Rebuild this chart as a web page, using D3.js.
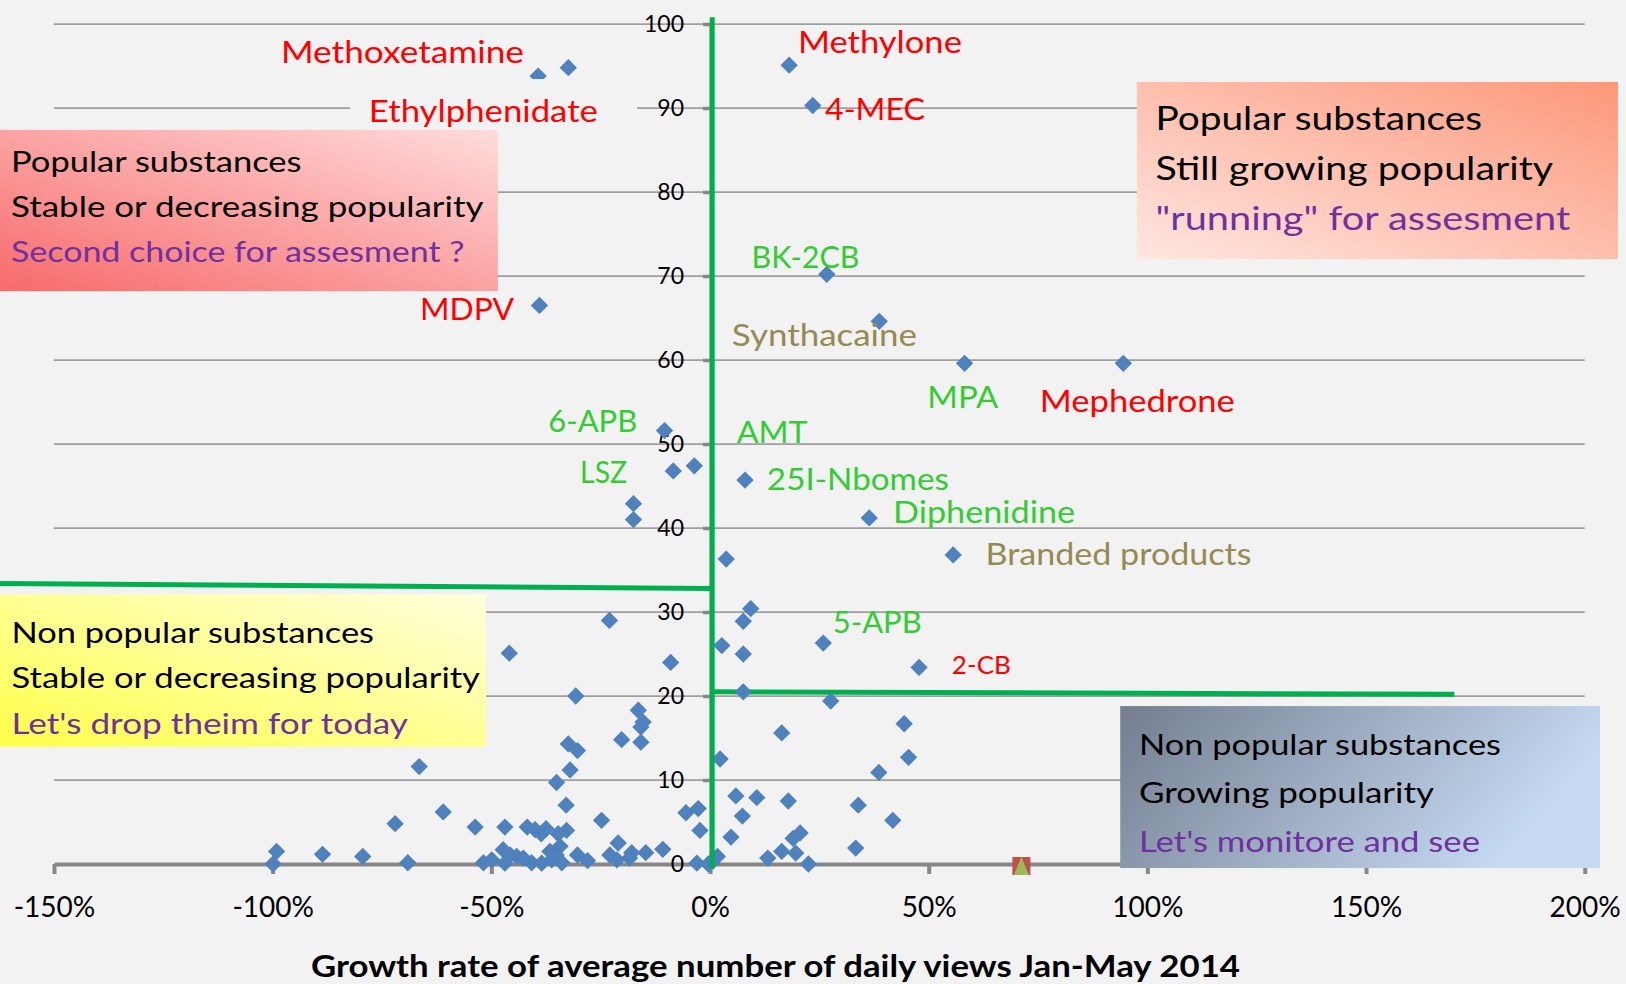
<!DOCTYPE html>
<html><head><meta charset="utf-8">
<script src="https://cdn.jsdelivr.net/npm/d3@7"></script>
<style>html,body{margin:0;padding:0;background:#f2f2f2;overflow:hidden}</style>
</head><body><svg id="chart" width="1626" height="984"></svg>
<script>
// ---------------- DATA ----------------
const growthRate = [
  -32.4,-39.3,18.1,23.5,26.7,-39.0,38.7,58.2,94.5,-10.4,-8.4,-3.6,-17.5,-17.5,8.0,36.4,3.7,55.6,
  9.3,7.6,2.7,7.6,25.9,47.8,7.6,27.6,16.4,44.4,-23.0,-45.9,-9.0,-30.7,-16.4,-15.3,-15.8,-20.2,
  -15.8,-32.4,-30.3,-32.0,-35.1,-32.9,-24.8,-53.7,-46.9,-41.8,-40.0,-37.5,-38.6,-34.7,-32.8,
  -5.5,-2.7,-2.3,-21.0,-10.8,-14.7,-17.9,-22.9,-21.3,-18.4,-30.3,-28.0,-34.3,-36.6,-47.3,-45.7,
  -51.8,-49.9,-46.9,-44.2,-42.7,-40.8,-38.5,-36.2,-33.9,-35.2,-3.0,0.15,-66.5,-61.0,-72.0,-99.1,
  -99.9,-88.6,-79.4,-69.1,2.3,45.4,38.6,5.9,10.7,17.9,33.9,7.4,41.8,4.8,20.6,19.0,16.4,19.6,13.2,
  22.5,33.3,1.7,-0.4
];
const dailyViews = [
  94.8,93.8,95.1,90.3,70.2,66.5,64.6,59.6,59.6,51.6,46.8,47.4,42.9,41.0,45.7,41.2,36.3,36.8,
  30.4,28.9,26.0,25.0,26.3,23.4,20.5,19.4,15.6,16.7,29.0,25.1,24.0,20.0,18.3,16.9,16.3,14.8,
  14.5,14.3,13.5,11.2,9.7,7.0,5.2,4.4,4.4,4.4,4.1,4.2,3.6,3.6,4.0,
  6.1,6.6,4.0,2.5,1.75,1.35,1.35,1.07,0.5,0.7,1.07,0.4,2.1,1.5,1.7,1.07,
  0.15,0.5,0.1,0.9,0.7,0.15,0.1,0.5,0.15,1.07,0.1,0.1,11.6,6.2,4.8,1.5,
  0.0,1.15,0.9,0.15,12.5,12.7,10.9,8.1,7.9,7.5,7.0,5.7,5.2,3.2,3.7,3.05,1.5,1.3,0.7,
  0.0,1.9,0.9,0.0
];
const flaggedGrowth = [71.2];
const flaggedViews = [0];

const xTickValues = [-150,-100,-50,0,50,100,150,200];
const yTickValues = [0,10,20,30,40,50,60,70,80,90,100];

const labelNames = ["Methoxetamine","Ethylphenidate","Methylone","4-MEC","BK-2CB","Synthacaine","MDPV",
  "MPA","Mephedrone","6-APB","LSZ","AMT","25I-Nbomes","Diphenidine","Branded products","5-APB","2-CB"];
const labelGrowth = [-98.1,-78.0,20.1,26.3,9.5,5.0,-66.3,49.7,75.4,-37.0,-29.7,6.1,13.0,41.85,63.0,28.06,55.3];
const labelViews  = [95.36,88.33,96.55,88.57,70.95,61.67,64.76,54.25,53.77,51.43,45.32,50.12,44.52,40.56,35.6,27.46,22.58];

const quadrantLines = [
  ["Popular substances","Stable or decreasing popularity","Second choice for assesment ?"],
  ["Popular substances","Still growing  popularity","\"running\" for assesment"],
  ["Non popular substances","Stable or decreasing popularity","Let's drop theim  for today"],
  ["Non popular substances","Growing popularity","Let's monitore and see"]
];
const xAxisTitle = "Growth rate  of average number of daily views Jan-May 2014";

// ---------------- STYLE / LAYOUT ----------------
const RED = "#ff0000", GREEN = "#33cc33", OLIVE = "#948a54", PURPLE = "#7030a0";
const labelStyle = {
  "Methoxetamine":[RED,243,31], "Ethylphenidate":[RED,229,31], "Methylone":[RED,164,31],
  "4-MEC":[RED,100,31], "BK-2CB":[GREEN,108,31], "Synthacaine":[OLIVE,185,31], "MDPV":[RED,94,31],
  "MPA":[GREEN,71,31], "Mephedrone":[RED,195,31], "6-APB":[GREEN,89,31], "LSZ":[GREEN,47,31],
  "AMT":[GREEN,71,31], "25I-Nbomes":[GREEN,182,31], "Diphenidine":[GREEN,182,31],
  "Branded products":[OLIVE,266,31], "5-APB":[GREEN,89,31], "2-CB":[RED,59,25]
};
const quadrantLayout = [
  {x0:-162.4,x1:-48.5,y0:87.4,y1:68.2, stops:["#f76a6a","#ffdcdc"], dir:[0,1,1,0], font:29, left:11,
   base:[41.7,86.7,131.7], widths:[290.5,472.5,453.5]},
  {x0:97.6,x1:207.6,y0:93.1,y1:72.0, stops:["#ffe6e0","#fc987a"], dir:[0,1,1,0], font:33, left:18.6,
   base:[48,98,148], widths:[326.6,397.7,414.7]},
  {x0:-162.4,x1:-51.2,y0:32.1,y1:13.96, stops:["#ffff4a","#ffffdc"], dir:[0,1,1,0], font:29, left:11.5,
   base:[48.7,93.3,139.3], widths:[362.5,468.5,396.5]},
  {x0:93.8,x1:203.5,y0:18.8,y1:-0.48, stops:["#737e8f","#c6daf2"], dir:[0,0,1,0.3], font:29, left:18.8,
   base:[49,97.3,145.7], widths:[361.9,295,340.9]}
];
const FONT = "Lato, 'Open Sans', sans-serif";

// ---------------- CHART ----------------
const svg = d3.select("#chart");
const x = d3.scaleLinear().domain([-150,200]).range([54,1584.7]);
const y = d3.scaleLinear().domain([0,100]).range([864,24]);

svg.append("rect").attr("width",1626).attr("height",984).attr("fill","#f2f2f2");

const defs = svg.append("defs");
quadrantLayout.forEach((q,i)=>{
  const g = defs.append("linearGradient").attr("id","qg"+i)
    .attr("x1",q.dir[0]).attr("y1",q.dir[1]).attr("x2",q.dir[2]).attr("y2",q.dir[3]);
  g.append("stop").attr("offset","0").attr("stop-color",q.stops[0]);
  g.append("stop").attr("offset","1").attr("stop-color",q.stops[1]);
});

// gridlines
svg.append("g").selectAll("line").data(yTickValues.filter(v=>v>0)).join("line")
  .attr("x1",x(-150)).attr("x2",x(200)).attr("y1",d=>y(d)).attr("y2",d=>y(d))
  .attr("stroke","#9f9f9f").attr("stroke-width",1.75);

// x axis
const xAxis = svg.append("g").attr("transform",`translate(0,${y(0)})`)
  .call(d3.axisBottom(x).tickValues(xTickValues).tickSize(10).tickSizeOuter(0).tickFormat(d=>d+"%"));
xAxis.select(".domain").attr("stroke","#878787").attr("stroke-width",4);
xAxis.selectAll(".tick line").attr("stroke","#878787").attr("stroke-width",4);
xAxis.selectAll(".tick text").attr("y",53).attr("dy",null).attr("fill","#000")
  .style("font-family",FONT).style("font-size","28px");

// y axis
const yAxis = svg.append("g").attr("transform",`translate(${x(0)},0)`)
  .call(d3.axisLeft(y).tickValues(yTickValues).tickSize(7).tickSizeOuter(0).tickPadding(19));
yAxis.select(".domain").attr("stroke","#878787").attr("stroke-width",2);
yAxis.selectAll(".tick line").attr("stroke","#878787").attr("stroke-width",3.5);
yAxis.selectAll(".tick text").attr("fill","#000").style("font-family",FONT).style("font-size","23px");

// green horizontal separators (under points)
const GL = "#00b050";
svg.append("line").attr("x1",x(-162.4)).attr("y1",y(33.4)).attr("x2",x(0.5)).attr("y2",y(32.8))
  .attr("stroke",GL).attr("stroke-width",5);
svg.append("line").attr("x1",x(0.5)).attr("y1",y(20.5)).attr("x2",x(170.2)).attr("y2",y(20.2))
  .attr("stroke",GL).attr("stroke-width",5);

// points
const pts = growthRate.map((g,i)=>({g, v:dailyViews[i]}));
const diamond = d3.symbol(d3.symbolSquare, 150)();
svg.append("g").selectAll("path").data(pts).join("path")
  .attr("d",diamond)
  .attr("transform",d=>`translate(${x(d.g)},${y(d.v)}) rotate(45)`)
  .attr("fill","#4f81bd");

// flagged marker (square + triangle)
const flagged = flaggedGrowth.map((g,i)=>({g, v:flaggedViews[i]}));
svg.append("g").selectAll("path").data(flagged).join("path")
  .attr("d",d3.symbol(d3.symbolSquare, 324)())
  .attr("transform",d=>`translate(${x(d.g)},${y(d.v)+2})`).attr("fill","#c0504d");
svg.append("g").selectAll("path").data(flagged).join("path")
  .attr("d","M0,-9L7.5,9L-7.5,9Z")
  .attr("transform",d=>`translate(${x(d.g)},${y(d.v)+2})`).attr("fill","#9bbb59");

// vertical green separator (over points)
svg.append("line").attr("x1",x(0.5)).attr("y1",y(100.8)).attr("x2",x(0.5)).attr("y2",y(-0.5))
  .attr("stroke",GL).attr("stroke-width",5);

// background patch behind Ethylphenidate label (drawn before the boxes)
svg.append("rect").attr("x",x(-82.3)).attr("y",y(93.45)).attr("width",x(-16.7)-x(-82.3))
  .attr("height",y(87.0)-y(93.45)).attr("fill","#f2f2f2");

// quadrant boxes
quadrantLayout.forEach((q,i)=>{
  const bx = Math.max(0,x(q.x0)), by = y(q.y0), bw = x(q.x1)-bx, bh = y(q.y1)-y(q.y0);
  svg.append("rect").attr("x",bx).attr("y",by).attr("width",bw).attr("height",bh)
    .attr("fill",`url(#qg${i})`);
  quadrantLines[i].forEach((t,j)=>{
    svg.append("text").attr("x",bx+q.left).attr("y",by+q.base[j])
      .attr("fill", j===2 ? PURPLE : "#000")
      .attr("textLength",q.widths[j]).attr("lengthAdjust","spacingAndGlyphs")
      .style("font-family",FONT).style("font-size",q.font+"px").text(t);
  });
});

// point labels
labelNames.forEach((n,i)=>{
  const s = labelStyle[n];
  svg.append("text").attr("x",x(labelGrowth[i])).attr("y",y(labelViews[i]))
    .attr("fill",s[0]).attr("textLength",s[1]).attr("lengthAdjust","spacingAndGlyphs")
    .style("font-family",FONT).style("font-size",s[2]+"px").text(n);
});

// axis title
svg.append("text").attr("x",775.5).attr("y",977).attr("text-anchor","middle")
  .attr("textLength",929).attr("lengthAdjust","spacingAndGlyphs")
  .style("font-family",FONT).style("font-weight","bold").style("font-size","30px")
  .attr("fill","#000").text(xAxisTitle);
</script></body></html>
